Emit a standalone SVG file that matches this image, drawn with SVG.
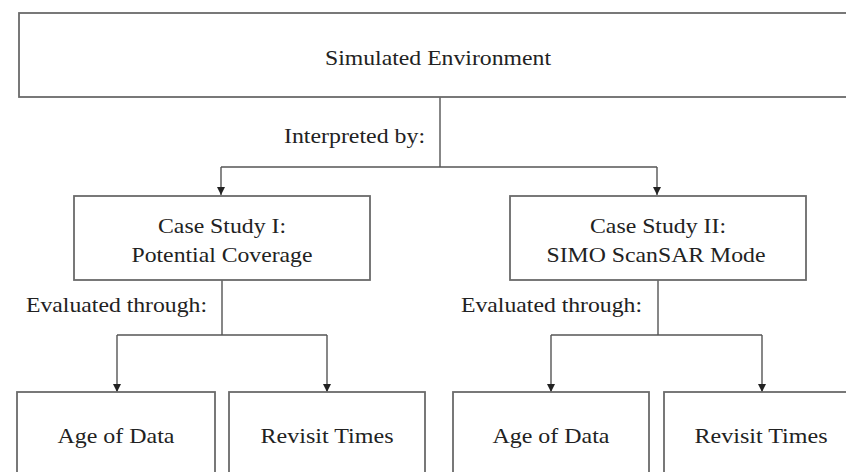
<svg xmlns="http://www.w3.org/2000/svg" width="846" height="472" viewBox="0 0 846 472">
<style>
.box{fill:#fff;stroke:#6a6a6a;stroke-width:1.8}
.t{font-family:"Liberation Serif","Times New Roman",serif;font-size:22px;fill:#222;text-anchor:middle}
.c{fill:none;stroke:#555;stroke-width:1.4}
</style>
<defs>
<marker id="ah" viewBox="0 0 10 10" refX="10" refY="5" markerWidth="8" markerHeight="8" markerUnits="userSpaceOnUse" orient="auto">
<path d="M0,0 L10,5 L0,10 z" fill="#222"/>
</marker>
</defs>
<rect width="846" height="472" fill="#fff"/>
<g id="connectors">
<path class="c" d="M440,97 V167 M221,167 H657"/>
<path class="c" d="M221,167 V195" marker-end="url(#ah)"/>
<path class="c" d="M657,167 V195" marker-end="url(#ah)"/>
<path class="c" d="M222,280 V335 M117,335 H327"/>
<path class="c" d="M117,335 V392" marker-end="url(#ah)"/>
<path class="c" d="M327,335 V392" marker-end="url(#ah)"/>
<path class="c" d="M658,280 V335 M551,335 H762"/>
<path class="c" d="M551,335 V392" marker-end="url(#ah)"/>
<path class="c" d="M762,335 V392" marker-end="url(#ah)"/>
<text class="t" x="425" y="143" style="text-anchor:end" textLength="141" lengthAdjust="spacingAndGlyphs">Interpreted by:</text>
<text class="t" x="26" y="312" style="text-anchor:start" textLength="181" lengthAdjust="spacingAndGlyphs">Evaluated through:</text>
<text class="t" x="461" y="312" style="text-anchor:start" textLength="181" lengthAdjust="spacingAndGlyphs">Evaluated through:</text>
</g>
<g id="sim-env">
<rect class="box" x="19" y="13" width="842" height="84"/>
<text class="t" x="438" y="65" textLength="226" lengthAdjust="spacingAndGlyphs">Simulated Environment</text>
</g>
<g id="case1">
<rect class="box" x="74" y="196" width="296" height="84"/>
<text class="t" x="222" y="233" textLength="128" lengthAdjust="spacingAndGlyphs">Case Study I:</text>
<text class="t" x="222" y="262" textLength="181" lengthAdjust="spacingAndGlyphs">Potential Coverage</text>
</g>
<g id="case2">
<rect class="box" x="510" y="196" width="296" height="84"/>
<text class="t" x="658" y="233" textLength="136" lengthAdjust="spacingAndGlyphs">Case Study II:</text>
<text class="t" x="656" y="262" textLength="219" lengthAdjust="spacingAndGlyphs">SIMO ScanSAR Mode</text>
</g>
<g id="age1">
<rect class="box" x="17" y="392" width="198" height="100"/>
<text class="t" x="116" y="443" textLength="117" lengthAdjust="spacingAndGlyphs">Age of Data</text>
</g>
<g id="revisit1">
<rect class="box" x="229" y="392" width="196" height="100"/>
<text class="t" x="327" y="443" textLength="133" lengthAdjust="spacingAndGlyphs">Revisit Times</text>
</g>
<g id="age2">
<rect class="box" x="453" y="392" width="196" height="100"/>
<text class="t" x="551" y="443" textLength="117" lengthAdjust="spacingAndGlyphs">Age of Data</text>
</g>
<g id="revisit2">
<rect class="box" x="664" y="392" width="196" height="100"/>
<text class="t" x="761" y="443" textLength="133" lengthAdjust="spacingAndGlyphs">Revisit Times</text>
</g>
</svg>
